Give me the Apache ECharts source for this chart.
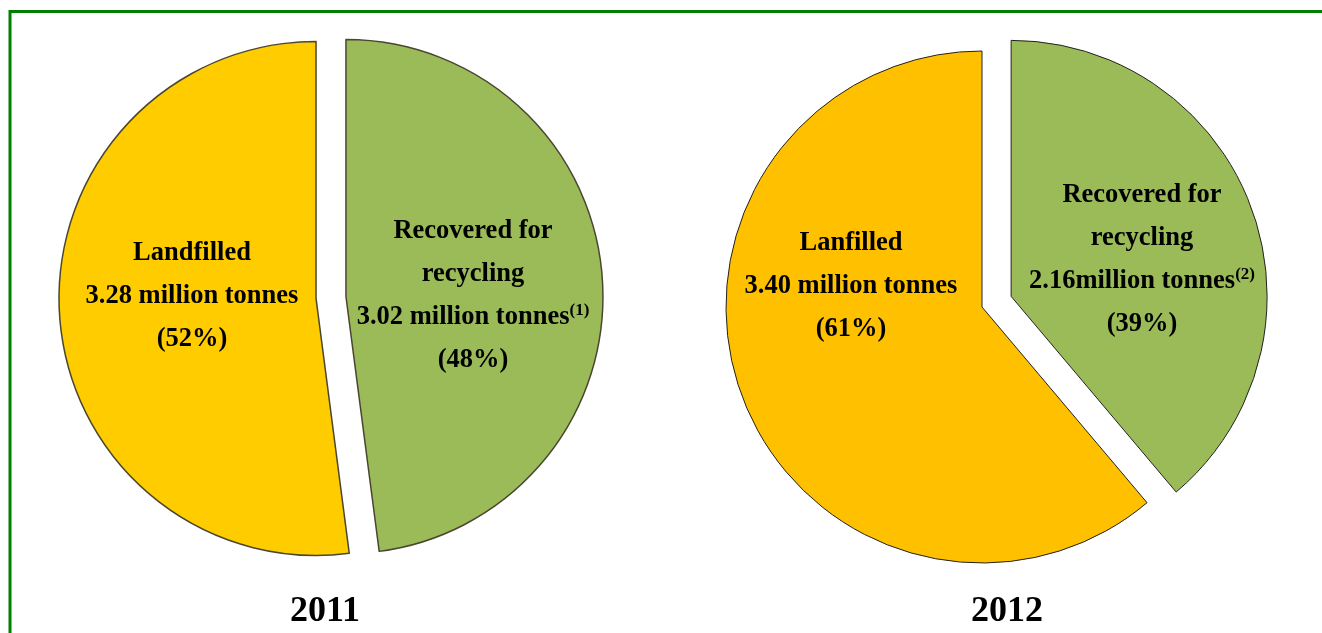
<!DOCTYPE html>
<html>
<head>
<meta charset="utf-8">
<script src="https://cdn.jsdelivr.net/npm/echarts@6/dist/echarts.min.js"></script>
<style>
html,body{margin:0;padding:0;background:#fff;}
#chart{width:1322px;height:633px;}
</style>
</head>
<body>
<div id="chart"></div>
<script>
// ---- data ----
const years = ['2011', '2012'];
const names2011 = ['Recovered for\nrecycling', 'Landfilled'];
const tonnes2011 = [3.02, 3.28];
const percent2011 = [48, 52];
const notes2011 = ['(1)', ''];
const names2012 = ['Recovered for\nrecycling', 'Lanfilled'];
const tonnes2012 = [2.16, 3.40];
const percent2012 = [39, 61];
const notes2012 = ['(2)', ''];
const unitSep2012 = ['', ' '];
const unitSep2011 = [' ', ' '];
const unit = 'million tonnes';

// ---- style ----
const green = '#9BBB59';
const yellow2011 = '#FFCC00';
const yellow2012 = '#FFC000';
const serif = '"Liberation Serif", "Times New Roman", serif';

function labelText(names, tonnes, pct, notes, seps, i) {
  return names[i] + '\n' + tonnes[i].toFixed(2) + seps[i] + unit +
    (notes[i] ? '{sup|' + notes[i] + '}' : '') + '\n(' + pct[i] + '%)';
}

function buildData(names, tonnes, colors, selected) {
  return names.map((n, i) => ({
    name: n,
    value: tonnes[i],
    selected: selected[i],
    itemStyle: { color: colors[i] }
  }));
}

const richSup = { sup: { fontFamily: serif, fontWeight: 'bold', fontSize: 17, verticalAlign: 'middle', padding: [0, 0, 12, 0], fill: '#000', color: '#000' } };

function labelGraphic(x, y, text) {
  return {
    type: 'text', x: x, y: y, silent: true, z: 100,
    style: {
      text: text, fill: '#000', fontFamily: serif, fontWeight: 'bold', fontSize: 26.5,
      lineHeight: 43, align: 'center', verticalAlign: 'middle', rich: richSup
    }
  };
}

const labelPos2011 = [[473, 295.5], [192, 296]];
const labelPos2012 = [[1142, 259.5], [851, 286]];

const labelGraphics = [];
names2011.forEach((n, i) => labelGraphics.push(labelGraphic(labelPos2011[i][0], labelPos2011[i][1],
  labelText(names2011, tonnes2011, percent2011, notes2011, unitSep2011, i))));
names2012.forEach((n, i) => labelGraphics.push(labelGraphic(labelPos2012[i][0], labelPos2012[i][1],
  labelText(names2012, tonnes2012, percent2012, notes2012, unitSep2012, i))));

const chart = echarts.init(document.getElementById('chart'), null, { renderer: 'canvas' });
chart.setOption({
  animation: false,
  backgroundColor: '#fff',
  graphic: [
    { type: 'rect', shape: { x: 10, y: 11.5, width: 1400, height: 700 }, style: { fill: 'none', stroke: '#008000', lineWidth: 3 }, silent: true },
    { type: 'text', x: 325, y: 612, style: { text: years[0], fontFamily: serif, fontWeight: 'bold', fontSize: 36, fill: '#000', align: 'center', verticalAlign: 'middle' } },
    { type: 'text', x: 1007, y: 612, style: { text: years[1], fontFamily: serif, fontWeight: 'bold', fontSize: 36, fill: '#000', align: 'center', verticalAlign: 'middle' } }
  ].concat(labelGraphics),
  series: [
    {
      type: 'pie',
      center: [331, 297.5],
      radius: 257,
      startAngle: 90,
      clockwise: true,
      selectedMode: 'multiple',
      selectedOffset: 15,
      silent: true,
      emphasis: { disabled: true },
      itemStyle: { borderColor: '#4a4630', borderWidth: 1.5 },
      label: { show: false },
      labelLine: { show: false },
      data: buildData(names2011, tonnes2011, [green, yellow2011], [true, true])
    },
    {
      type: 'pie',
      center: [982, 307],
      radius: 256,
      startAngle: 90,
      clockwise: true,
      selectedMode: 'multiple',
      selectedOffset: 31,
      silent: true,
      emphasis: { disabled: true },
      itemStyle: { borderColor: '#222', borderWidth: 1 },
      label: { show: false },
      labelLine: { show: false },
      data: buildData(names2012, tonnes2012, [green, yellow2012], [true, false])
    }
  ]
});
</script>
</body>
</html>
